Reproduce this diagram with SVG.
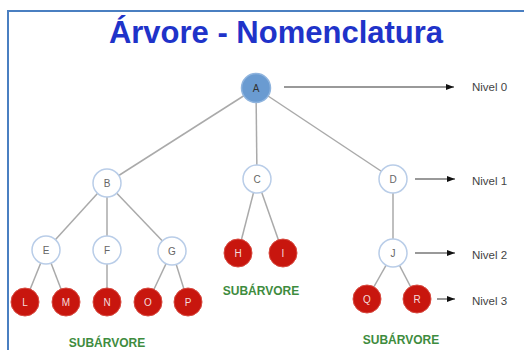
<svg xmlns="http://www.w3.org/2000/svg" width="524" height="350" viewBox="0 0 524 350">
<defs>
<marker id="ah" markerWidth="8" markerHeight="6" refX="8" refY="3" orient="auto" markerUnits="userSpaceOnUse">
<path d="M0,0 L8,3 L0,6 Z" fill="#111"/>
</marker>
<style>
.frame{stroke:#4a7fc1;stroke-width:2;fill:none}
.title{font-family:"Liberation Sans",Arial,sans-serif;font-weight:bold;font-size:31px;fill:#1f33c9}
.edge{stroke:#aaaaaa;stroke-width:1.5;fill:none}
.lvl{stroke:#777;stroke-width:1.5;fill:none;marker-end:url(#ah)}
.lvtxt{font-family:"Liberation Sans",Arial,sans-serif;font-size:11.5px;fill:#444;dominant-baseline:central}
.root{fill:#6a9bd1;stroke:#8fb4de;stroke-width:1.5}
.inner{fill:#fff;stroke:#b9cde8;stroke-width:1.5}
.leaf{fill:#c8160e;stroke:#d84a40;stroke-width:1}
.lbl{font-family:"Liberation Sans",Arial,sans-serif;font-size:10px;text-anchor:middle;dominant-baseline:central}
.lbl.dark{fill:#333}
.lbl.gray{fill:#666}
.lbl.white{fill:#f4dcdc}
.sub{font-family:"Liberation Sans",Arial,sans-serif;font-weight:bold;font-size:12px;fill:#3e8c3e;text-anchor:middle;dominant-baseline:central}
</style>
</defs>
<rect width="524" height="350" fill="#fff"/>
<path class="frame" d="M8,350 L8,11 L524,11"/>
<text class="title" x="276" y="43" text-anchor="middle">Árvore - Nomenclatura</text>

<g id="connectors">
<line class="edge" x1="256" y1="88" x2="107" y2="183"/>
<line class="edge" x1="256" y1="88" x2="257" y2="179"/>
<line class="edge" x1="256" y1="88" x2="393" y2="179"/>
<line class="edge" x1="107" y1="183" x2="46" y2="250"/>
<line class="edge" x1="107" y1="183" x2="107" y2="250"/>
<line class="edge" x1="107" y1="183" x2="172" y2="251"/>
<line class="edge" x1="46" y1="250" x2="25" y2="302"/>
<line class="edge" x1="46" y1="250" x2="66" y2="302"/>
<line class="edge" x1="107" y1="250" x2="107" y2="302"/>
<line class="edge" x1="172" y1="251" x2="148" y2="302"/>
<line class="edge" x1="172" y1="251" x2="188" y2="302"/>
<line class="edge" x1="257" y1="179" x2="238" y2="253"/>
<line class="edge" x1="257" y1="179" x2="283" y2="253"/>
<line class="edge" x1="393" y1="179" x2="393" y2="253"/>
<line class="edge" x1="393" y1="253" x2="367" y2="299"/>
<line class="edge" x1="393" y1="253" x2="417" y2="299"/>
<line class="lvl" x1="284" y1="87" x2="454" y2="87"/>
<line class="lvl" x1="415" y1="179" x2="455" y2="179"/>
<line class="lvl" x1="415" y1="253" x2="455" y2="253"/>
<line class="lvl" x1="437" y1="299" x2="455" y2="299"/>
</g>

<g id="node-A"><circle class="root" cx="256" cy="88" r="14.5"/><text class="lbl dark" x="256" y="88">A</text></g>
<g id="node-B"><circle class="inner" cx="107" cy="183" r="14"/><text class="lbl gray" x="107" y="183">B</text></g>
<g id="node-C"><circle class="inner" cx="257" cy="179" r="14"/><text class="lbl gray" x="257" y="179">C</text></g>
<g id="node-D"><circle class="inner" cx="393" cy="179" r="14"/><text class="lbl gray" x="393" y="179">D</text></g>
<g id="node-E"><circle class="inner" cx="46" cy="250" r="14"/><text class="lbl gray" x="46" y="250">E</text></g>
<g id="node-F"><circle class="inner" cx="107" cy="250" r="14"/><text class="lbl gray" x="107" y="250">F</text></g>
<g id="node-G"><circle class="inner" cx="172" cy="251" r="14"/><text class="lbl gray" x="172" y="251">G</text></g>
<g id="node-J"><circle class="inner" cx="393" cy="253" r="14"/><text class="lbl gray" x="393" y="253">J</text></g>
<g id="node-L"><circle class="leaf" cx="25" cy="302" r="14"/><text class="lbl white" x="25" y="302">L</text></g>
<g id="node-M"><circle class="leaf" cx="66" cy="302" r="14"/><text class="lbl white" x="66" y="302">M</text></g>
<g id="node-N"><circle class="leaf" cx="107" cy="302" r="14"/><text class="lbl white" x="107" y="302">N</text></g>
<g id="node-O"><circle class="leaf" cx="148" cy="302" r="14"/><text class="lbl white" x="148" y="302">O</text></g>
<g id="node-P"><circle class="leaf" cx="188" cy="302" r="14"/><text class="lbl white" x="188" y="302">P</text></g>
<g id="node-H"><circle class="leaf" cx="238" cy="253" r="14"/><text class="lbl white" x="238" y="253">H</text></g>
<g id="node-I"><circle class="leaf" cx="283" cy="253" r="14"/><text class="lbl white" x="283" y="253">I</text></g>
<g id="node-Q"><circle class="leaf" cx="367" cy="299" r="14"/><text class="lbl white" x="367" y="299">Q</text></g>
<g id="node-R"><circle class="leaf" cx="417" cy="299" r="14"/><text class="lbl white" x="417" y="299">R</text></g>

<g id="labels">
<text class="lvtxt" x="472" y="87">Nivel 0</text>
<text class="lvtxt" x="472" y="181">Nivel 1</text>
<text class="lvtxt" x="472" y="255">Nivel 2</text>
<text class="lvtxt" x="472" y="301">Nivel 3</text>
<text class="sub" x="107" y="343">SUBÁRVORE</text>
<text class="sub" x="261" y="291">SUBÁRVORE</text>
<text class="sub" x="401" y="340">SUBÁRVORE</text>
</g>
</svg>
